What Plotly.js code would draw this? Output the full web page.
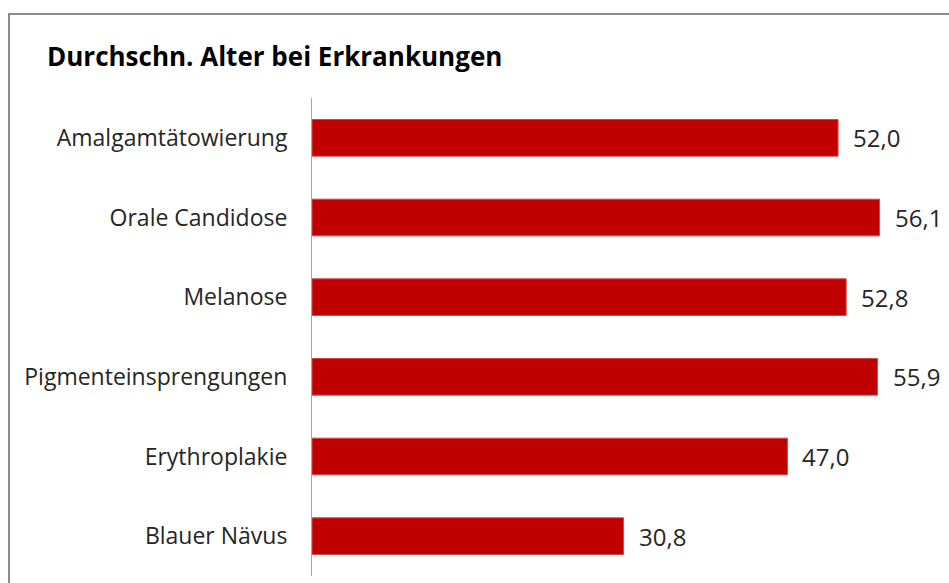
<!DOCTYPE html>
<html>
<head>
<meta charset="utf-8">
<script src="https://cdn.plot.ly/plotly-3.0.1.min.js"></script>
<style>
html, body { margin: 0; padding: 0; background: #fff; overflow: hidden; width: 949px; height: 583px; }
#frame { position: absolute; left: 8px; top: 13px; width: 960px; height: 600px;
  border-left: 2px solid #8c8c8c; border-top: 2px solid #8c8c8c; }
#chart { width: 960px; height: 600px; }
</style>
</head>
<body>
<div id="frame"><div id="chart"></div></div>
<script>
const categories = ["Amalgamtätowierung", "Orale Candidose", "Melanose", "Pigmenteinsprengungen", "Erythroplakie", "Blauer Nävus"];
const values = [52.0, 56.1, 52.8, 55.9, 47.0, 30.8];
const titleText = "Durchschn. Alter bei Erkrankungen";

const W = 960, H = 600;
const FONT = "'Open Sans', sans-serif";

const trace = {
  type: "bar",
  orientation: "h",
  x: values,
  y: categories,
  marker: { color: "#C00000", line: { color: "#D24A4A", width: 1 } },
  hoverinfo: "skip"
};

const annotations = values.map((v, i) => ({
  x: v, y: categories[i], xref: "x", yref: "y",
  text: v.toFixed(1).replace(".", ","),
  showarrow: false, xanchor: "left", yanchor: "middle", xshift: 13,
  font: { family: FONT, size: 24, color: "#262626" }
}));

const layout = {
  width: W, height: H,
  margin: { l: 302, r: 51, t: 83, b: 39 },
  paper_bgcolor: "#ffffff",
  plot_bgcolor: "#ffffff",
  showlegend: false,
  bargap: 0.54,
  title: {
    text: "<b>" + titleText + "</b>",
    xref: "container", yref: "container",
    x: 37 / W, xanchor: "left",
    y: 1 - 42 / H, yanchor: "middle",
    font: { family: FONT, size: 26, color: "#000000" }
  },
  xaxis: {
    range: [0, 60], visible: false, showgrid: false, zeroline: false, fixedrange: true
  },
  yaxis: {
    type: "category",
    autorange: "reversed",
    showline: true, linecolor: "#a6a6a6", linewidth: 1,
    showgrid: false, zeroline: false,
    ticks: "", ticklabelstandoff: 19,
    tickfont: { family: FONT, size: 23, color: "#262626" }
  },
  annotations: annotations
};

Plotly.newPlot("chart", [trace], layout, { displayModeBar: false, staticPlot: true });
</script>
</body>
</html>
